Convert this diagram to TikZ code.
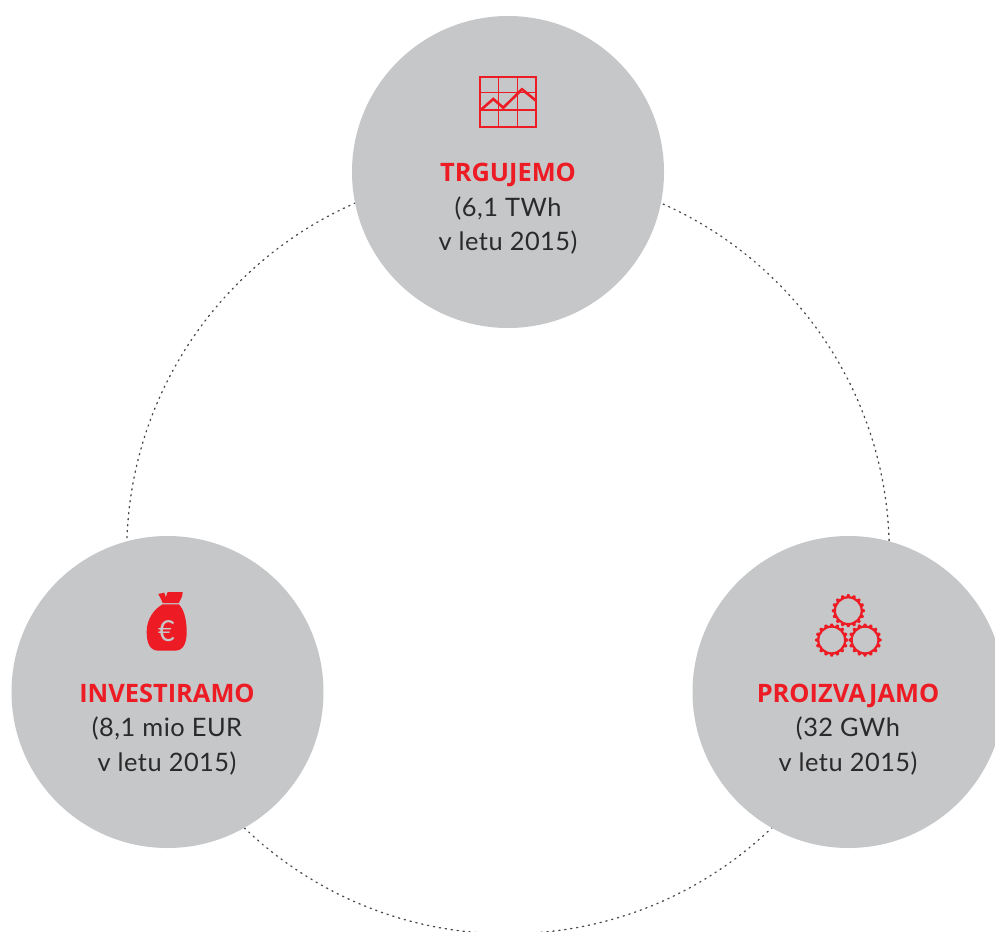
\documentclass[tikz,border=0pt]{standalone}
\usepackage{fontspec}
\setmainfont[LetterSpace=2]{Lato}
\usetikzlibrary{calc}
\definecolor{disc}{HTML}{C6C7C9}
\definecolor{brand}{HTML}{ED1C24}
\definecolor{ink}{HTML}{2B2A2B}
\newfontfamily\headfont{Open Sans}
\tikzset{
  hub/.style={circle,fill=disc,draw=none,minimum size=312pt,inner sep=0pt},
  ring/.style={circle,draw=ink!85,line width=1.3pt,dash pattern=on 1.3pt off 4.7pt,line cap=round,minimum size=762.6pt,inner sep=0pt},
  headline/.style={text=brand,font=\headfont\bfseries\fontsize{25.4}{28}\selectfont,inner sep=0pt,anchor=base},
  detail/.style={text=ink,font=\fontsize{25.4}{35}\selectfont,inner sep=0pt,anchor=base},
  gridline/.style={draw=brand,line width=1.2pt},
  frameline/.style={draw=brand,line width=2pt},
  trendline/.style={draw=brand,line width=2.6pt,line join=miter},
  gearline/.style={draw=brand,line width=2.2pt}
}
\newcommand{\gearicon}[1]{%
  \begin{scope}[shift={#1}]
    \draw[gearline] (0,0) circle (13.4pt);
    \foreach \a in {0,22.5,...,337.5}{
      \fill[brand,rotate=\a] (-2.6pt,13pt) -- (-1pt,16.5pt) -- (1pt,16.5pt) -- (2.6pt,13pt) -- cycle;
    }
  \end{scope}}
\begin{document}
\begin{tikzpicture}[x=1pt,y=-1pt]
\useasboundingbox (0,0) rectangle (995,931);
\clip (0,0) rectangle (995,931);
\fill[white] (0,0) rectangle (995,931);
\node[ring] (cycle) at (508,552.5) {};
\node[hub] (trade) at (508,172) {};
\node[hub] (invest) at (167.5,692) {};
\node[hub] (produce) at (848.5,692) {};
% chart icon
\draw[gridline] (498.3,77) -- (498.3,127) (517.3,77) -- (517.3,127) (480,92.7) -- (536,92.7) (480,110) -- (536,110);
\draw[frameline] (480,77) rectangle (536,127);
\draw[trendline] (480.7,110) -- (493.3,99) -- (503.3,107.7) -- (522,89.3) -- (536,100.7);
% money bag
\begin{scope}[shift={(130,580)},x=0.3333pt,y=-0.3333pt]
  \fill[brand] (85,42) -- (103,38) -- (107,52) -- (113,36) -- (158,36) .. controls (158,50) and (152,58) .. (146,69) -- (98,69) .. controls (94,58) and (89,50) .. (85,42) -- cycle;
  \fill[brand] (98,73) -- (146,73) .. controls (160,85) and (170,115) .. (170,155) .. controls (170,190) and (160,212) .. (135,212) -- (85,212) .. controls (60,212) and (50,190) .. (50,155) .. controls (50,115) and (75,85) .. (98,73) -- cycle;
\end{scope}
\node[text=disc,font=\fontsize{29}{29}\selectfont,inner sep=0pt] (euro) at (166.5,631) {€};
% gears
\gearicon{(848.3,610.7)}
\gearicon{(831.7,640)}
\gearicon{(865,640)}
% labels
\node[headline] (h1) at (508,181.7) {TRGUJEMO};
\node[detail] (d1a) at (508,216) {(6,1 TWh};
\node[detail] (d1b) at (508,250.7) {v letu 2015)};
\node[headline] (h2) at (167,702) {INVESTIRAMO};
\node[detail] (d2a) at (167,736) {(8,1 mio EUR};
\node[detail] (d2b) at (167,771) {v letu 2015)};
\node[headline] (h3) at (848,702) {PROIZVAJAMO};
\node[detail] (d3a) at (848,736) {(32 GWh};
\node[detail] (d3b) at (848,771) {v letu 2015)};
\end{tikzpicture}
\end{document}
